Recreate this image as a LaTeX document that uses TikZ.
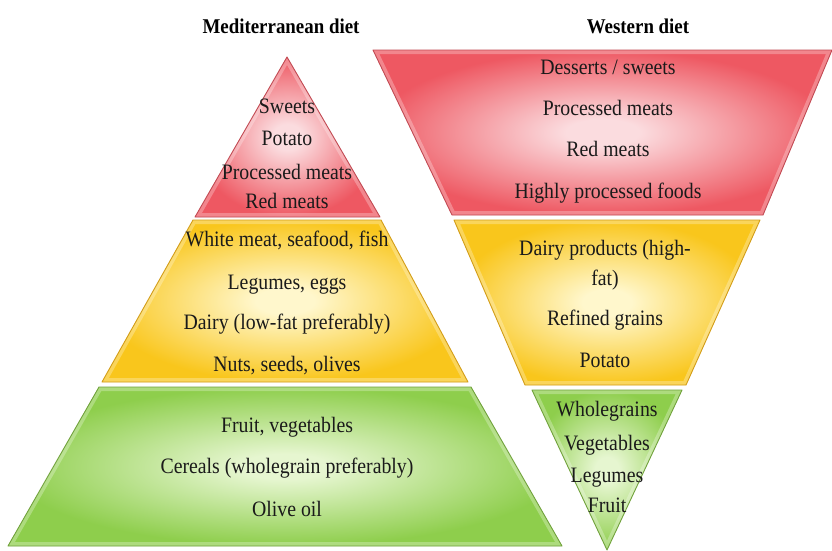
\documentclass[tikz,border=0pt]{standalone}
\usepackage{fontspec}
\setmainfont{Liberation Serif}
\newfontfamily\lblfont[FakeStretch=0.9]{Liberation Serif}
\definecolor{redE}{HTML}{EE5862}
\definecolor{redC}{HTML}{FBDCDF}
\definecolor{redD}{HTML}{C24A53}
\definecolor{yelE}{HTML}{F9C61C}
\definecolor{yelC}{HTML}{FFF7CC}
\definecolor{yelD}{HTML}{D39D18}
\definecolor{grnE}{HTML}{8ECE4C}
\definecolor{grnC}{HTML}{E6F6D0}
\definecolor{grnD}{HTML}{71A23C}
\definecolor{txt}{HTML}{1A1A1A}
\pgfdeclareradialshading{redglow}{\pgfpoint{0bp}{0bp}}{color(0bp)=(redC); color(4bp)=(redC); color(25bp)=(redE); color(50bp)=(redE)}
\pgfdeclareradialshading{yelglow}{\pgfpoint{0bp}{0bp}}{color(0bp)=(yelC); color(4bp)=(yelC); color(25bp)=(yelE); color(50bp)=(yelE)}
\pgfdeclareradialshading{grnglow}{\pgfpoint{0bp}{0bp}}{color(0bp)=(grnC); color(4bp)=(grnC); color(25bp)=(grnE); color(50bp)=(grnE)}
\newcommand{\drawtier}[3]{%
  \shade[shading=#1] #3 -- cycle;
  \begin{scope}
    \clip #3 -- cycle;
    \draw[white, opacity=0.28, line width=8pt, line join=round] #3 -- cycle;
  \end{scope}
  \draw[#2, line width=0.9pt, line join=round] #3 -- cycle;
}
\tikzset{
  lbl/.style={font=\lblfont\fontsize{22}{24}\selectfont, text=txt, anchor=base, inner sep=0pt},
  ttl/.style={font=\lblfont\bfseries\fontsize{21}{24}\selectfont, text=black, anchor=base, inner sep=0pt}
}
\begin{document}
\begin{tikzpicture}[x=1pt, y=-1pt]
\useasboundingbox (0,0) rectangle (832,550);
\fill[white] (0,0) rectangle (832,550);

% Mediterranean pyramid
\drawtier{redglow}{redD}{(287,57) -- (380,217) -- (195,217)}
\drawtier{yelglow}{yelD}{(193,220) -- (381,220) -- (468,382) -- (102,382)}
\drawtier{grnglow}{grnD}{(99,387) -- (471,387) -- (562,546) -- (8,546)}

% Western inverted pyramid
\drawtier{redglow}{redD}{(373,50) -- (832,50) -- (763,215) -- (452,215)}
\drawtier{yelglow}{yelD}{(454,220) -- (760,220) -- (686,385) -- (525,385)}
\drawtier{grnglow}{grnD}{(532,390) -- (682,390) -- (607,550)}

% titles
\node[ttl] (tmed) at (281,33) {Mediterranean diet};
\node[ttl] (twes) at (638,33) {Western diet};

% Mediterranean labels
\node[lbl] (m1) at (287,113) {Sweets};
\node[lbl] (m2) at (287,145) {Potato};
\node[lbl] (m3) at (287,179) {Processed meats};
\node[lbl] (m4) at (287,208) {Red meats};
\node[lbl] (m5) at (287,246) {White meat, seafood, fish};
\node[lbl] (m6) at (287,289) {Legumes, eggs};
\node[lbl] (m7) at (287,329) {Dairy (low-fat preferably)};
\node[lbl] (m8) at (287,371) {Nuts, seeds, olives};
\node[lbl] (m9) at (287,432) {Fruit, vegetables};
\node[lbl] (m10) at (287,473) {Cereals (wholegrain preferably)};
\node[lbl] (m11) at (287,516) {Olive oil};

% Western labels
\node[lbl] (w1) at (608,74) {Desserts / sweets};
\node[lbl] (w2) at (608,115) {Processed meats};
\node[lbl] (w3) at (608,156) {Red meats};
\node[lbl] (w4) at (608,198) {Highly processed foods};
\node[lbl] (w5) at (605,255) {Dairy products (high-};
\node[lbl] (w6) at (605,285) {fat)};
\node[lbl] (w7) at (605,325) {Refined grains};
\node[lbl] (w8) at (605,367) {Potato};
\node[lbl] (w9) at (607,416) {Wholegrains};
\node[lbl] (w10) at (607,450) {Vegetables};
\node[lbl] (w11) at (607,482) {Legumes};
\node[lbl] (w12) at (607,512) {Fruit};
\end{tikzpicture}
\end{document}
